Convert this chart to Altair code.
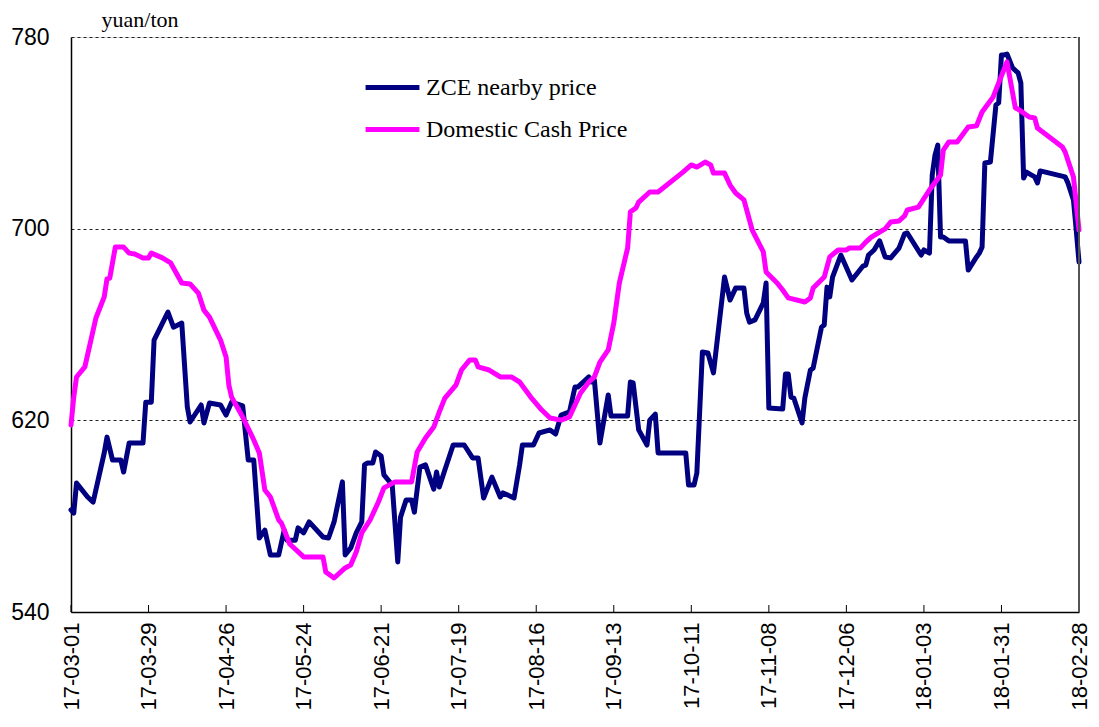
import altair as alt
import pandas as pd

zce_day = [0,1,2,6,8,12,13,15,18,19,21,26,27,29,30,35,37,40,42,43,47,48,50,54,56,58,62,64,66,68,70,72,75,77,78,81,82,84,86,91,93,95,98,99,101,103,105,106,107,109,110,112,113,116,118,119,121,123,124,126,128,131,132,133,135,138,142,145,147,149,152,155,156,160,162,163,167,169,173,175,177,180,182,183,187,188,189,191,194,195,201,202,203,205,208,209,211,212,222,223,225,226,228,230,232,236,238,240,243,244,245,247,250,251,252,257,258,259,260,261,264,265,267,268,271,272,273,274,275,278,282,286,287,288,290,292,294,296,299,301,302,307,308,310,311,312,313,314,315,317,323,324,327,328,329,330,332,334,335,336,337,338,340,342,343,344,345,348,349,350,359,360,362,363,364]
zce_val = [582.6,581.3,593.8,588.0,585.9,606.4,613.0,603.4,603.4,598.4,610.5,610.5,627.6,627.6,653.5,665.2,658.9,660.6,625.6,619.3,626.4,618.9,627.2,626.4,622.2,627.6,626.0,603.4,603.4,570.9,574.2,563.8,563.8,574.2,570.0,570.0,575.1,573.0,577.6,571.3,570.9,577.6,594.3,563.8,566.7,573.0,577.6,601.4,602.2,602.2,606.8,605.1,597.2,593.0,560.9,579.6,586.7,586.7,581.7,600.5,601.4,591.3,598.4,592.2,599.3,609.7,609.7,604.3,604.3,587.6,596.3,588.0,589.7,587.6,601.4,609.7,609.7,614.7,616.0,614.3,622.2,623.5,633.9,633.9,638.1,636.0,636.8,610.5,630.6,621.8,621.8,636.0,635.6,616.0,609.7,620.1,622.6,606.4,606.4,593.0,593.0,598.0,648.5,648.1,639.8,679.8,670.2,675.2,675.2,664.8,661.0,661.9,669.0,677.3,625.1,624.7,639.3,639.3,629.7,629.3,618.9,629.3,641.0,641.8,658.9,659.8,675.6,671.5,679.8,689.0,678.6,684.4,684.8,689.0,691.1,694.9,688.2,687.8,691.9,697.8,698.2,689.0,691.1,689.8,722.4,730.7,734.9,696.5,696.5,694.9,694.9,682.7,688.2,689.8,692.3,727.4,727.8,751.6,752.5,772.5,772.5,772.9,767.1,765.0,760.8,721.1,723.6,721.6,719.1,724.1,721.6,719.1,712.0,699.4,686.1]

cash_day = [0,1,2,5,9,12,13,14,16,19,21,23,26,28,29,33,36,40,43,46,48,50,54,56,57,58,62,66,68,70,72,75,76,79,84,91,92,95,99,101,103,105,108,111,113,117,123,125,128,131,133,135,139,141,144,146,147,151,155,159,162,166,170,173,177,180,184,187,189,191,194,196,198,201,202,204,205,209,212,221,224,226,229,231,232,236,238,240,243,246,250,251,255,257,259,265,267,268,272,274,277,280,281,285,287,289,292,294,296,299,301,302,306,310,314,315,317,320,324,327,329,333,338,341,342,346,348,349,358,359,362,364]
cash_val = [618.0,629.7,638.1,642.3,662.7,671.5,679.0,679.4,692.3,692.3,689.8,689.4,687.8,687.8,689.8,687.8,685.7,677.3,676.9,673.1,666.0,663.1,653.5,646.4,634.7,629.7,621.4,611.8,606.4,590.9,588.0,578.4,577.1,568.4,563.0,563.0,556.7,554.2,558.4,559.6,565.0,573.0,578.4,585.9,591.8,594.3,594.3,606.8,612.6,617.2,623.5,629.3,634.7,641.0,645.2,645.2,642.3,641.0,638.1,638.1,636.0,629.7,624.3,621.0,620.1,621.4,631.4,636.0,638.1,644.3,649.4,660.6,677.3,691.9,707.0,708.6,711.1,715.3,715.3,723.6,726.6,725.7,727.8,726.6,723.2,723.2,718.2,714.9,712.0,699.4,690.3,681.9,677.3,674.4,671.1,669.4,671.1,675.2,679.8,688.2,691.1,691.1,691.9,691.9,694.4,696.5,698.6,699.9,702.8,703.2,705.3,707.8,709.0,716.1,722.4,732.8,736.2,736.2,742.4,742.9,748.7,755.0,769.6,750.4,749.9,746.6,746.2,742.0,734.1,732.0,721.6,699.4]

series_names = ["ZCE nearby price", "Domestic Cash Price"]
series_colors = ["#000080", "#FF00FF"]
tick_days = [0, 28, 56, 84, 112, 140, 168, 196, 224, 252, 280, 308, 336, 364]
tick_labels = ["17-03-01", "17-03-29", "17-04-26", "17-05-24", "17-06-21", "17-07-19",
               "17-08-16", "17-09-13", "17-10-11", "17-11-08", "17-12-06", "18-01-03",
               "18-01-31", "18-02-28"]
y_ticks = [540, 620, 700, 780]

rows = []
for i, (d, v) in enumerate(zip(zce_day, zce_val)):
    rows.append({"day": d, "value": v, "series": series_names[0], "idx": i})
for i, (d, v) in enumerate(zip(cash_day, cash_val)):
    rows.append({"day": d, "value": v, "series": series_names[1], "idx": i})
df = pd.DataFrame(rows)
ticks_df = pd.DataFrame({"day": tick_days})

W, H = 1008, 575
label_expr = "[" + ",".join("'%s'" % t for t in tick_labels) + "][round(datum.value/28)]"

xscale = alt.Scale(domain=[0, 364], nice=False, zero=False)
yscale = alt.Scale(domain=[540, 780], nice=False, zero=False)

lines = alt.Chart(df).mark_line(strokeWidth=5, strokeJoin="round", strokeCap="round").encode(
    x=alt.X("day:Q", scale=xscale, axis=alt.Axis(
        values=tick_days, labelExpr=label_expr, labelAngle=270, labelAlign="right",
        labelBaseline="middle", labelFont="Liberation Sans", labelFontSize=22,
        labelPadding=10, tickSize=0, domainColor="black", domainWidth=1.5,
        grid=False, title=None, labelColor="black", labelOverlap=False, labelBound=False)),
    y=alt.Y("value:Q", scale=yscale, axis=alt.Axis(
        values=y_ticks, grid=True, gridDash=[3, 3], gridColor="#222222", gridWidth=1,
        tickSize=0, labelPadding=22, labelFontSize=23, labelFont="Liberation Sans",
        labelColor="black", domainColor="black", domainWidth=1.5,
        title="yuan/ton", titleAngle=0, titleX=30, titleY=-11, titleAlign="left",
        titleBaseline="alphabetic", titleFont="Liberation Serif", titleFontSize=22,
        titleFontWeight="normal", titleColor="black")),
    color=alt.Color("series:N", scale=alt.Scale(domain=series_names, range=series_colors),
                    legend=alt.Legend(orient="none", legendX=292, legendY=21, title=None,
                                      symbolType="stroke", symbolSize=2900, symbolStrokeWidth=5,
                                      labelFont="Liberation Serif", labelFontSize=24,
                                      labelColor="black", labelOffset=4, rowPadding=-19,
                                      labelLimit=0)),
    order="idx:Q",
)

xticks = alt.Chart(ticks_df).mark_rule(color="black", strokeWidth=1).encode(
    x=alt.X("day:Q", scale=xscale),
    y=alt.value(H - 7), y2=alt.value(H),
)

right_border = alt.Chart(ticks_df).mark_rule(color="#555555", strokeWidth=1).encode(
    x=alt.value(W), y=alt.value(0), y2=alt.value(H)
)

chart = alt.layer(lines, xticks, right_border).properties(
    width=W, height=H,
    padding={"left": 63, "top": 29, "right": 12, "bottom": 106},
    autosize="none",
).configure_view(stroke=None).configure(background="white")

chart.save("out.html", embed_options={"renderer": "svg", "actions": False})
